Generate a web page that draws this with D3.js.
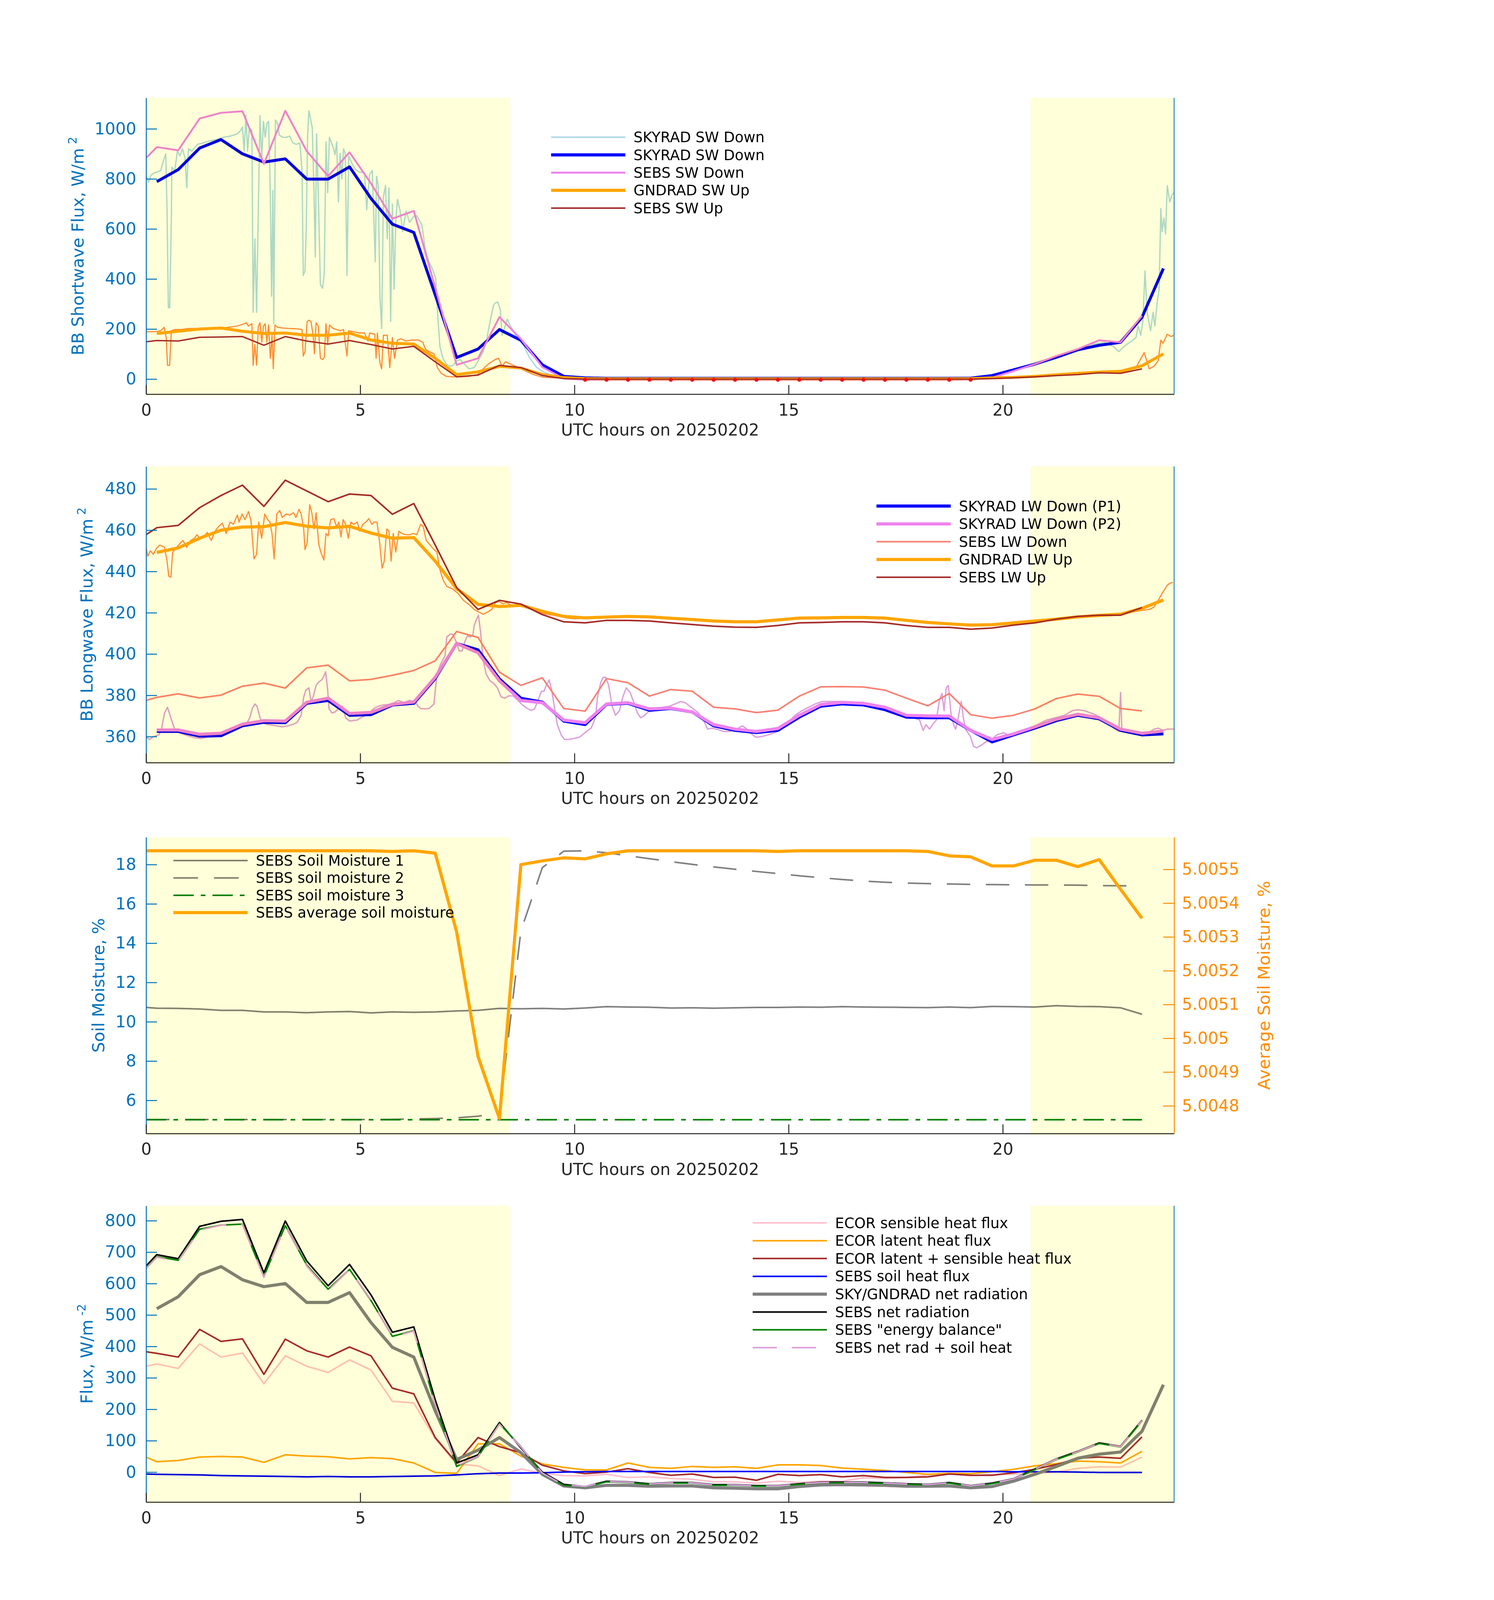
<!DOCTYPE html>
<html>
<head>
<meta charset="utf-8">
<script src="https://cdn.jsdelivr.net/npm/d3@7"></script>
<style>
  html, body { margin: 0; padding: 0; background: #fff; overflow: hidden; }
  svg { display: block; }
  text { font-family: "DejaVu Sans", sans-serif; }
</style>
</head>
<body>
<div id="chart"></div>
<script>
// ---- time bases (UTC hours) ----
const tHalf = [0.25,0.75,1.25,1.75,2.25,2.75,3.25,3.75,4.25,4.75,5.25,5.75,6.25,6.75,7.25,7.75,8.25,8.75,9.25,9.75,10.25,10.75,11.25,11.75,12.25,12.75,13.25,13.75,14.25,14.75,15.25,15.75,16.25,16.75,17.25,17.75,18.25,18.75,19.25,19.75,20.25,20.75,21.25,21.75,22.25,22.75,23.25,23.75];
const tSebs = [0,0.25,0.75,1.25,1.75,2.25,2.75,3.25,3.75,4.25,4.75,5.25,5.75,6.25,6.75,7.25,7.75,8.25,8.75,9.25,9.75,10.25,10.75,11.25,11.75,12.25,12.75,13.25,13.75,14.25,14.75,15.25,15.75,16.25,16.75,17.25,17.75,18.25,18.75,19.25,19.75,20.25,20.75,21.25,21.75,22.25,22.75,23.25];
const shadeHours = [[0, 8.5], [20.65, 24]];
const xTicks = [0, 5, 10, 15, 20];

// ---- panel 1: shortwave ----
const swTicks = [0, 200, 400, 600, 800, 1000];
const skySwDn1m = [[0,810],[0.06,787],[0.11,814],[0.18,823],[0.26,828],[0.34,833],[0.41,874],[0.46,900],[0.49,667],[0.52,285],[0.55,285],[0.59,635],[0.6,846],[0.67,833],[0.73,911],[0.79,892],[0.85,920],[0.91,883],[0.95,764],[0.99,920],[1.07,911],[1.2,938],[1.32,943],[1.48,952],[1.64,957],[1.8,966],[1.97,971],[2.13,980],[2.21,994],[2.25,1007],[2.29,911],[2.33,1053],[2.37,911],[2.41,1003],[2.47,994],[2.5,267],[2.54,561],[2.58,267],[2.62,672],[2.66,1053],[2.7,883],[2.74,1030],[2.78,966],[2.82,1021],[2.86,1030],[2.9,745],[2.93,331],[2.96,754],[2.98,221],[3.02,1035],[3.07,1021],[3.11,975],[3.19,966],[3.27,966],[3.35,971],[3.43,943],[3.51,938],[3.59,943],[3.64,837],[3.67,414],[3.71,432],[3.74,607],[3.77,966],[3.8,1072],[3.84,1040],[3.88,1003],[3.92,745],[3.95,488],[3.98,980],[4.02,745],[4.07,377],[4.12,363],[4.16,423],[4.2,948],[4.24,745],[4.28,966],[4.37,925],[4.41,897],[4.45,948],[4.49,708],[4.53,902],[4.57,800],[4.61,920],[4.65,902],[4.69,414],[4.73,892],[4.81,860],[4.89,837],[4.98,828],[5.1,823],[5.15,676],[5.22,819],[5.28,833],[5.35,469],[5.38,810],[5.42,773],[5.46,327],[5.5,202],[5.54,727],[5.59,773],[5.63,561],[5.67,764],[5.71,230],[5.75,699],[5.79,359],[5.83,635],[5.87,718],[5.93,672],[5.99,589],[6.07,672],[6.15,626],[6.24,649],[6.32,653],[6.44,616],[6.52,515],[6.6,469],[6.68,442],[6.76,405],[6.8,276],[6.86,129],[6.93,83],[7.01,60],[7.09,51],[7.17,55],[7.25,74],[7.33,78],[7.46,55],[7.54,41],[7.66,46],[7.74,69],[7.86,106],[7.94,147],[8.02,221],[8.11,294],[8.15,304],[8.21,308],[8.27,276],[8.31,175],[8.35,193],[8.43,239],[8.51,212],[8.63,175],[8.8,138],[8.96,83],[9.12,46],[9.28,28],[9.5,14],[9.71,6],[10.02,2],[12,1],[14,1],[16,1],[18,1],[19.24,2],[19.76,9],[20.7,55],[21.54,101],[22.06,138],[22.38,147],[22.59,129],[22.71,110],[22.85,133],[23.01,152],[23.11,166],[23.16,212],[23.22,175],[23.27,230],[23.32,432],[23.37,267],[23.45,193],[23.51,267],[23.55,212],[23.61,313],[23.65,359],[23.69,681],[23.72,589],[23.76,644],[23.8,580],[23.84,773],[23.9,708],[23.95,736],[24,745]];
const gndSwUp1m = [[0,189],[0.18,189],[0.34,193],[0.42,207],[0.47,166],[0.5,55],[0.55,55],[0.59,193],[0.67,198],[0.83,198],[0.99,202],[1.15,202],[1.48,204],[1.8,204],[2.13,212],[2.29,221],[2.34,225],[2.39,212],[2.47,221],[2.5,55],[2.54,138],[2.58,55],[2.62,212],[2.66,225],[2.7,147],[2.74,212],[2.78,221],[2.82,147],[2.86,216],[2.9,83],[2.94,175],[2.97,41],[3.01,216],[3.07,207],[3.19,204],[3.35,202],[3.51,201],[3.64,198],[3.67,92],[3.71,110],[3.76,230],[3.8,235],[3.85,230],[3.9,175],[3.93,101],[3.97,225],[4.02,212],[4.07,83],[4.12,78],[4.16,87],[4.2,221],[4.24,138],[4.28,216],[4.37,202],[4.45,198],[4.53,193],[4.61,198],[4.69,92],[4.73,193],[4.85,189],[4.98,184],[5.1,184],[5.18,152],[5.22,184],[5.34,179],[5.37,83],[5.4,184],[5.46,64],[5.5,41],[5.54,175],[5.63,175],[5.69,46],[5.75,166],[5.8,83],[5.87,156],[5.95,161],[6.07,152],[6.2,156],[6.36,156],[6.46,147],[6.52,120],[6.6,110],[6.72,101],[6.8,46],[6.89,23],[7.01,11],[7.17,9],[7.33,9],[7.54,11],[7.74,18],[7.9,46],[8.02,64],[8.15,78],[8.23,83],[8.31,51],[8.39,69],[8.51,60],[8.63,51],[8.8,37],[9.04,18],[9.28,7],[10,2],[15,1],[19.5,3],[20.5,10],[21.5,18],[22.5,28],[23,40],[23.11,46],[23.3,106],[23.42,41],[23.53,51],[23.63,74],[23.69,156],[23.74,143],[23.84,179],[23.93,170],[24,175]];
const skySwDn30 = [789,837,923,957,900,867,880,799,799,848,722,619,586,337,86,120,198,155,57,11,5,3,3,3,3,3,3,3,3,3,3,3,3,3,3,3,3,3,4,14,37,60,87,117,135,147,247,442];
const sebsSwDn = [883,927,914,1041,1064,1070,860,1072,911,811,906,782,641,672,365,57,83,248,160,48,2,-3,-3,-3,-3,-3,-3,-3,-3,-3,-3,-3,-3,-3,-3,-3,-3,-3,-3,-2,6,32,60,92,120,155,147,253];
const gndSwUp30 = [182,191,200,204,191,182,184,175,175,184,156,143,140,83,18,29,51,44,18,6,2,1,1,1,1,1,1,1,1,1,1,1,1,1,1,1,1,1,2,5,7,11,17,23,28,31,53,101];
const sebsSwUp = [149,154,152,167,168,170,135,170,152,140,154,138,120,131,69,9,16,55,46,14,2,0,0,0,0,0,0,0,0,0,0,0,0,0,0,0,0,0,0,0,2,5,9,14,18,25,23,41];
const nightDotsT = [10.25,10.75,11.25,11.75,12.25,12.75,13.25,13.75,14.25,14.75,15.25,15.75,16.25,16.75,17.25,17.75,18.25,18.75,19.25];
const nightDotsV = [-3,-3,-3,-3,-3,-3,-3,-3,-3,-3,-3,-3,-3,-3,-3,-3,-3,-3,-3];

// ---- panel 2: longwave ----
const lwTicks = [360, 380, 400, 420, 440, 460, 480];
const skyLwDn1m = [[0,359.7],[0.08,358.6],[0.17,360],[0.3,360.8],[0.36,363.6],[0.43,371.4],[0.5,374.2],[0.56,370.3],[0.62,366.4],[0.69,362.5],[0.78,361.9],[0.91,360.8],[1.04,360],[1.17,359.3],[1.3,359.1],[1.43,359.7],[1.56,360],[1.69,360.8],[1.83,360.8],[1.96,362.5],[2.09,363.6],[2.22,364.7],[2.35,366.4],[2.42,369.1],[2.48,373.6],[2.54,375.8],[2.59,374.7],[2.66,369.1],[2.72,366.9],[2.8,366],[2.92,365.6],[3.05,365.2],[3.18,364.7],[3.31,365.2],[3.44,366],[3.53,366.9],[3.62,370.3],[3.68,379.2],[3.73,382.5],[3.8,383.6],[3.85,377],[3.9,379.2],[3.97,384.8],[4.03,386.4],[4.1,387.5],[4.15,389.2],[4.19,391.4],[4.24,382.5],[4.27,373.6],[4.34,371.4],[4.41,371.9],[4.49,373.6],[4.58,374.7],[4.66,369.1],[4.75,367.5],[4.84,367.8],[4.93,368],[5.01,369.1],[5.13,370.3],[5.23,371.9],[5.32,373.6],[5.42,374.7],[5.54,375.3],[5.67,375.6],[5.8,376.4],[5.89,377.5],[6.02,376.4],[6.15,377.5],[6.28,377],[6.35,374.7],[6.41,373.6],[6.5,373.4],[6.61,373.6],[6.72,375.8],[6.79,390.3],[6.87,394.8],[6.98,399.3],[7.02,408.2],[7.11,409.8],[7.17,409.3],[7.24,405.9],[7.31,401.5],[7.38,401.5],[7.44,405.9],[7.5,408.7],[7.57,408.2],[7.63,409.3],[7.66,413.8],[7.72,417.1],[7.76,418.8],[7.81,410.4],[7.87,397],[7.94,390.3],[8.03,387],[8.11,385.9],[8.2,383.6],[8.29,379.2],[8.38,378.6],[8.46,379.7],[8.57,379.7],[8.68,377.5],[8.79,375.3],[8.9,373.6],[8.99,372.7],[9.07,373.4],[9.16,378.1],[9.23,382],[9.29,382],[9.35,385.3],[9.41,387.5],[9.47,382.5],[9.53,374.7],[9.6,365.8],[9.69,360.8],[9.77,358.6],[9.86,358.6],[9.99,359.1],[10.12,359.7],[10.28,362.5],[10.39,364.1],[10.49,369.1],[10.54,379.2],[10.61,385.9],[10.67,388.7],[10.73,388.7],[10.8,384.8],[10.88,374.7],[10.96,370.3],[11.05,372.5],[11.13,379.2],[11.21,383.6],[11.3,381.4],[11.38,377],[11.47,371.4],[11.55,369.1],[11.64,370.3],[11.75,372.5],[11.91,373.6],[12.06,374.2],[12.22,374.7],[12.35,375.8],[12.48,377],[12.59,376.4],[12.69,374.7],[12.8,373],[12.9,371.4],[13.01,368],[13.11,363.6],[13.21,364.1],[13.32,363.6],[13.48,362.5],[13.63,362.5],[13.79,363.6],[13.92,365.2],[14,364.1],[14.1,361.9],[14.23,359.7],[14.37,360],[14.52,360.8],[14.68,361.9],[14.84,364.1],[14.99,366.9],[15.15,370.3],[15.31,372.5],[15.47,374.2],[15.62,375.8],[15.78,377],[15.99,377],[16.2,377],[16.41,376.4],[16.62,375.8],[16.83,375.3],[17.04,374.7],[17.25,373],[17.46,371.4],[17.61,370.3],[17.77,369.4],[17.93,369.1],[18.06,368],[18.14,363],[18.21,365.8],[18.29,363.6],[18.38,366.4],[18.45,368],[18.52,377.5],[18.58,380.9],[18.63,372.5],[18.68,383.6],[18.73,384.8],[18.79,371.4],[18.85,365.8],[18.9,363.6],[18.95,368],[19.03,377],[19.08,369.1],[19.13,363.6],[19.24,360.2],[19.32,355.2],[19.39,354.6],[19.5,355.8],[19.6,357.4],[19.74,358.6],[19.86,360.8],[20.02,361.9],[20.18,360.2],[20.34,361.9],[20.49,363],[20.65,364.1],[20.81,365.8],[21.02,368],[21.23,369.1],[21.44,370.3],[21.62,372.5],[21.75,373],[21.91,372.5],[22.06,371.4],[22.25,369.7],[22.43,366.9],[22.59,364.1],[22.71,362.5],[22.75,381.4],[22.78,363.6],[22.9,361.9],[23.06,361.3],[23.21,360.8],[23.37,361.3],[23.53,363.6],[23.63,364.1],[23.74,363],[23.84,363.6],[24,363.6]];
const gndLwUp1m = [[0,451.7],[0.04,447.4],[0.1,450],[0.17,448.3],[0.24,451.1],[0.32,452.8],[0.43,451.7],[0.49,445],[0.53,437.7],[0.58,437.2],[0.62,449.4],[0.69,451.1],[0.78,453.3],[0.86,455],[0.95,451.7],[1.04,455],[1.13,456.1],[1.19,457.8],[1.26,455.6],[1.34,456.7],[1.43,458.9],[1.52,455],[1.61,459.5],[1.69,461.7],[1.78,463.4],[1.87,458.4],[1.96,463.9],[2.04,462.8],[2.13,467.3],[2.17,463.9],[2.24,467.8],[2.31,465.1],[2.39,469],[2.45,464.5],[2.52,446.1],[2.58,448.3],[2.63,463.9],[2.7,456.1],[2.77,467.8],[2.84,465.1],[2.89,463.9],[2.94,458.4],[2.99,446.1],[3.05,467.8],[3.12,469.5],[3.18,466.2],[3.27,467.8],[3.35,467.3],[3.44,468.4],[3.5,466.2],[3.57,470.1],[3.62,467.8],[3.68,460.6],[3.71,450.6],[3.76,453.9],[3.82,472.3],[3.87,468.4],[3.92,460.6],[3.97,468.4],[4.03,453.3],[4.08,449.4],[4.15,445.5],[4.2,458.4],[4.25,457.2],[4.31,465.1],[4.38,465.6],[4.45,461.7],[4.5,463.9],[4.55,456.7],[4.6,465.1],[4.66,462.8],[4.72,456.1],[4.78,463.9],[4.85,462.8],[4.93,463.9],[4.99,459.5],[5.06,462.8],[5.13,463.9],[5.2,465.6],[5.27,462.8],[5.32,463.9],[5.39,463.9],[5.45,454.5],[5.51,441.6],[5.56,445],[5.62,460.6],[5.67,459.5],[5.72,445],[5.77,458.4],[5.83,449.4],[5.9,459.5],[5.97,458.4],[6.06,457.8],[6.15,457.8],[6.24,458.4],[6.32,457.8],[6.41,462.8],[6.47,461.7],[6.54,455],[6.63,452.8],[6.72,450.6],[6.79,449.4],[6.85,441.6],[6.93,436.1],[7.02,432.7],[7.15,431.6],[7.28,429.4],[7.41,426],[7.55,423.8],[7.66,421.6],[7.76,420.4],[7.87,419.3],[7.98,420.4],[8.07,421.6],[8.16,424.9],[8.24,425.5],[8.33,424.3],[8.42,424.9],[8.51,423.8],[8.64,423.2],[8.81,422.9],[8.99,421.6],[9.16,420.4],[9.34,419.3],[9.51,418.8],[9.69,418],[9.86,417.3],[10.03,417.1],[10.28,417.5],[11,418.3],[12,417.6],[13,416.3],[14,415.4],[15,417],[16,417.8],[17,417.5],[18,415.7],[19,414.2],[20,414.6],[21,416.6],[22,418.5],[22.9,419.8],[23.2,421],[23.42,421.6],[23.53,422.7],[23.63,426],[23.72,429.4],[23.79,431.6],[23.84,433.3],[23.91,434.4],[23.97,434.6]];
const skyLwDnP1 = [362.5,362.5,360.2,360.4,365.2,366.9,366.7,376.1,377.5,370.3,370.6,375.3,376.1,388.1,405.1,402.0,387.9,378.6,376.7,367.5,365.8,375.6,376.1,372.7,373.6,371.9,365.2,363.0,361.9,363.0,369.4,374.7,375.8,375.3,373.0,369.4,369.1,369.1,363.0,357.4,360.8,364.1,367.7,370.3,368.6,363.0,360.8,361.3];
const skyLwDnP2 = [363.2,363.2,361.1,361.6,366.0,367.7,367.5,376.6,378.6,371.2,371.7,375.6,376.7,388.7,405.1,400.6,387.0,377.5,376.4,368.0,366.7,375.8,376.4,373.4,373.8,371.9,365.8,363.6,362.5,363.9,370.3,375.5,376.6,376.1,374.2,370.3,370.0,369.9,363.0,358.6,361.3,364.7,368.4,370.8,369.1,363.6,361.6,362.7];
const sebsLwDn = [377.5,379.0,380.7,378.7,380.1,384.4,385.9,383.5,393.3,394.6,387.0,387.7,389.7,392.0,396.7,410.9,408.0,391.2,384.8,388.5,373.6,372.3,388.1,386.1,379.6,382.8,382.0,374.2,373.4,371.6,372.8,379.6,384.1,384.2,384.0,382.5,378.6,374.9,380.9,370.6,368.9,370.3,373.4,378.4,380.6,379.5,373.6,372.4];
const gndLwUp30 = [449.2,451.4,456.1,460.0,461.5,461.7,463.7,461.9,461.1,461.9,458.6,456.1,456.4,445.0,431.6,424.1,423.0,423.6,420.7,418.2,417.5,417.9,418.2,418.0,417.3,416.7,416.0,415.6,415.6,416.5,417.4,417.5,417.7,417.7,417.4,416.3,415.3,414.6,414.0,414.2,415.1,416.0,416.9,418.0,418.7,419.3,422.1,426.2];
const sebsLwUp = [457.8,461.2,462.3,470.9,476.8,481.8,471.5,484.2,479.0,473.8,477.5,476.8,467.7,472.9,452.8,432.2,421.6,426.0,424.2,419.1,415.6,415.1,416.3,416.3,416.0,415.1,414.3,413.5,413.0,412.9,413.8,415.1,415.3,415.6,415.6,415.1,413.8,412.9,412.9,412.0,412.6,414.0,415.1,416.9,418.2,418.8,418.8,422.5];

// ---- panel 3: soil moisture ----
const smTicks = [6, 8, 10, 12, 14, 16, 18];
const smAvgTicks = [5.0048, 5.0049, 5.005, 5.0051, 5.0052, 5.0053, 5.0054, 5.0055];
const soil1 = [10.73,10.69,10.68,10.65,10.58,10.58,10.50,10.50,10.46,10.50,10.52,10.45,10.50,10.48,10.50,10.55,10.58,10.68,10.66,10.68,10.65,10.70,10.77,10.75,10.74,10.70,10.71,10.69,10.71,10.73,10.73,10.75,10.74,10.77,10.75,10.74,10.73,10.72,10.75,10.72,10.78,10.77,10.75,10.82,10.78,10.77,10.71,10.38];
const soil2 = [5.02,5.02,5.02,5.02,5.02,5.02,5.02,5.02,5.02,5.02,5.02,5.02,5.03,5.05,5.07,5.11,5.19,5.36,14.62,17.84,18.68,18.70,18.60,18.45,18.30,18.15,18.01,17.88,17.76,17.65,17.54,17.43,17.33,17.24,17.16,17.10,17.06,17.03,17.01,16.99,16.98,16.97,16.96,16.96,16.95,16.93,16.92,16.90];
const soil3 = [5.01,5.01,5.01,5.01,5.01,5.01,5.01,5.01,5.01,5.01,5.01,5.01,5.01,5.01,5.01,5.01,5.01,5.01,5.01,5.01,5.01,5.01,5.01,5.01,5.01,5.01,5.01,5.01,5.01,5.01,5.01,5.01,5.01,5.01,5.01,5.01,5.01,5.01,5.01,5.01,5.01,5.01,5.01,5.01,5.01,5.01,5.01,5.01];
const soilAvg = [5.005555,5.005555,5.005555,5.005555,5.005555,5.005555,5.005555,5.005555,5.005555,5.005555,5.005555,5.005555,5.005553,5.005555,5.005548,5.005315,5.004946,5.004762,5.005514,5.005525,5.005534,5.005531,5.005546,5.005555,5.005555,5.005555,5.005555,5.005555,5.005555,5.005555,5.005553,5.005555,5.005555,5.005555,5.005555,5.005555,5.005555,5.005553,5.005540,5.005537,5.005510,5.005510,5.005527,5.005527,5.005508,5.005529,5.005441,5.005355];

// ---- panel 4: surface energy fluxes ----
const fluxTicks = [0, 100, 200, 300, 400, 500, 600, 700, 800];
const ecorSens = [337,344,330,408,366,379,281,370,337,317,357,325,225,220,106,26,20,-11,10,-4,-11,-12,-7,-17,-15,-20,-23,-31,-31,-35,-29,-33,-29,-29,-18,-20,-17,-9,-5,-11,-7,-7,-4,0,12,17,16,48];
const ecorLat = [48,33,37,48,50,48,31,55,51,49,42,46,43,29,-1,-4,90,90,51,26,15,7,7,29,15,12,18,15,17,12,23,23,21,13,9,5,-1,-7,-4,-5,1,9,20,27,35,33,29,66];
const ecorSum = [383,378,366,454,416,424,311,423,386,366,398,370,267,249,110,29,110,81,62,22,4,-5,0,11,-1,-10,-6,-17,-16,-26,-7,-11,-8,-15,-11,-17,-17,-15,-6,-10,-10,-2,9,24,44,48,44,112];
const sebsSoilHeat = [-6,-7,-8,-9,-11,-12,-13,-14,-15,-14,-15,-15,-14,-13,-12,-9,-5,-3,-3,-2,0,1,2,2,2,2,2,2,2,2,2,2,2,2,2,2,2,2,2,2,2,1,1,1,0,-1,-1,-1];
const skyGndNet = [520,558,628,654,612,590,600,540,540,571,476,397,366,195,40,70,110,62,-7,-44,-50,-42,-42,-45,-44,-44,-50,-51,-53,-53,-46,-41,-40,-41,-42,-45,-45,-44,-50,-46,-29,-7,18,44,57,64,130,278];
const sebsNetRad = [656,692,679,782,798,804,634,799,672,593,661,564,445,462,230,29,55,158,77,0,-39,-46,-29,-31,-37,-33,-33,-40,-40,-43,-43,-37,-32,-32,-32,-34,-37,-39,-33,-43,-35,-21,10,42,66,93,82,165];
const sebsEnergyBal = [650,686,674,773,786,789,623,784,659,582,645,546,432,450,215,18,49,154,81,-4,-42,-47,-31,-33,-39,-35,-35,-42,-42,-45,-45,-39,-34,-34,-34,-36,-39,-41,-35,-45,-37,-23,8,40,64,91,80,163];
const sebsNetPlusSoil = [648,684,671,770,786,788,620,783,656,578,645,548,430,449,215,20,50,152,80,-3,-41,-46,-30,-32,-38,-34,-34,-41,-41,-44,-44,-38,-33,-33,-33,-35,-38,-40,-34,-44,-36,-22,9,41,65,92,81,164];

// ---- layout ----
// layout is laid out in 3825x4875 units; if the window is shorter,
// vertical positions are compressed so that all four panels stay visible
const W = 3825, H0 = 4875;
const SY = Math.min(1, (window.innerHeight || H0) / H0);
const H = Math.floor(H0 * SY);
const L = 374, R = 3006;
const BLUE = '#0072bd', DARK = '#262626', RORANGE = '#ff8c00', SHADE = '#ffffd9';

const svg = d3.select('#chart').append('svg').attr('width', W).attr('height', H);
svg.append('rect').attr('width', W).attr('height', H).attr('fill', '#fff');

const x = d3.scaleLinear().domain([0, 24]).range([L, R]);
const zip = (t, v) => t.map((d, i) => [d, v[i]]);

function drawPanel(p) {
  const top = p.top * SY, bottom = p.bottom * SY, mid = (top + bottom) / 2;
  const g = svg.append('g');
  const y = d3.scaleLinear().domain(p.yDomain).range([bottom, top]);
  const y2 = p.y2Domain ? d3.scaleLinear().domain(p.y2Domain).range([bottom, top]) : null;

  svg.append('clipPath').attr('id', 'clip' + p.id).append('rect')
    .attr('x', L).attr('y', top).attr('width', R - L).attr('height', bottom - top);
  const plot = g.append('g').attr('clip-path', `url(#clip${p.id})`);

  p.series.forEach(s => {
    const ys = s.right ? y2 : y;
    const line = d3.line().x(d => x(d[0])).y(d => ys(d[1]));
    plot.append('path').datum(s.data)
      .attr('d', line)
      .attr('fill', 'none')
      .attr('stroke', s.color)
      .attr('stroke-width', s.w)
      .attr('stroke-linejoin', 'round')
      .attr('stroke-dasharray', s.dash || null);
  });

  if (p.dots) {
    plot.selectAll('circle.dot').data(p.dots).join('circle')
      .attr('cx', d => x(d[0])).attr('cy', d => y(d[1]))
      .attr('r', 5).attr('fill', '#ff0000');
  }

  // legend
  const lg = g.append('g');
  p.legend.forEach((it, i) => {
    const yy = (p.legY + i * p.legDy) * SY;
    lg.append('line')
      .attr('x1', p.legX).attr('x2', p.legX + 190)
      .attr('y1', yy).attr('y2', yy)
      .attr('stroke', it.color).attr('stroke-width', it.w)
      .attr('stroke-dasharray', it.dash || null);
    lg.append('text')
      .attr('x', p.legX + 211).attr('y', yy + 13)
      .style('font-size', '37px').attr('fill', '#000')
      .text(it.label);
  });

  // day shading, multiplied over the marks
  g.selectAll('rect.shade').data(shadeHours).join('rect')
    .attr('x', d => x(d[0])).attr('width', d => x(d[1]) - x(d[0]))
    .attr('y', top).attr('height', bottom - top + 4)
    .attr('fill', SHADE)
    .style('mix-blend-mode', 'multiply');

  // left axis
  const ya = g.append('g').attr('transform', `translate(${L},0)`)
    .call(d3.axisLeft(y).tickValues(p.yTicks).tickFormat(d3.format('d'))
      .tickSize(-28).tickSizeOuter(0).tickPadding(25));
  ya.attr('font-size', 42).attr('font-family', 'DejaVu Sans');
  ya.select('.domain').attr('stroke', BLUE).attr('stroke-width', 2.5);
  ya.selectAll('.tick line').attr('stroke', BLUE).attr('stroke-width', 2.5);
  ya.selectAll('.tick text').attr('fill', BLUE);

  // bottom axis
  const xa = g.append('g').attr('transform', `translate(0,${bottom})`)
    .call(d3.axisBottom(x).tickValues(xTicks).tickFormat(d3.format('d'))
      .tickSize(-28 * SY).tickSizeOuter(0).tickPadding(0));
  xa.attr('font-size', 42).attr('font-family', 'DejaVu Sans');
  xa.select('.domain').attr('stroke', DARK).attr('stroke-width', 2.5);
  xa.selectAll('.tick line').attr('stroke', DARK).attr('stroke-width', 2.5);
  xa.selectAll('.tick text').attr('fill', DARK).attr('dy', null).attr('y', 65 * SY);

  if (y2) {
    const ra = g.append('g').attr('transform', `translate(${R},0)`)
      .call(d3.axisRight(y2).tickValues(p.y2Ticks).tickSize(-28).tickSizeOuter(0).tickPadding(20)
        .tickFormat(d => String(+d.toFixed(4))));
    ra.attr('font-size', 42).attr('font-family', 'DejaVu Sans');
    ra.select('.domain').attr('stroke', RORANGE).attr('stroke-width', 2.5);
    ra.selectAll('.tick line').attr('stroke', RORANGE).attr('stroke-width', 2.5);
    ra.selectAll('.tick text').attr('fill', RORANGE);
    g.append('text')
      .attr('transform', `translate(${p.y2LabelX},${mid}) rotate(-90)`)
      .attr('text-anchor', 'middle').attr('fill', RORANGE)
      .style('font-size', '43px')
      .text(p.y2Label);
  } else {
    g.append('line').attr('x1', R).attr('x2', R).attr('y1', top).attr('y2', bottom)
      .attr('stroke', BLUE).attr('stroke-width', 2);
  }

  g.append('text')
    .attr('x', (L + R) / 2).attr('y', bottom + 126 * SY)
    .attr('text-anchor', 'middle').attr('fill', DARK)
    .style('font-size', '42px')
    .text('UTC hours on 20250202');

  const yl = g.append('text')
    .attr('transform', `translate(${p.yLabelX},${mid}) rotate(-90)`)
    .attr('text-anchor', 'middle').attr('fill', BLUE)
    .style('font-size', '43px');
  yl.append('tspan').text(p.yLabel);
  if (p.ySup) {
    yl.append('tspan').attr('dx', 10).attr('dy', -18).style('font-size', '30px').text(p.ySup);
  }
}

// Panel 1
drawPanel({
  id: 1, top: 298, bottom: 1201, yDomain: [-60.3, 1123.9], yTicks: swTicks,
  yLabel: 'BB Shortwave Flux, W/m', ySup: '2', yLabelX: 214,
  series: [
    { data: skySwDn1m, color: '#add8e6', w: 3.3 },
    { data: gndSwUp1m, color: '#ff8c3c', w: 3 },
    { data: zip(tHalf, skySwDn30), color: '#0000ff', w: 7.5 },
    { data: zip(tSebs, sebsSwDn), color: '#ee82ee', w: 4.7 },
    { data: zip(tHalf, gndSwUp30), color: '#ffa500', w: 7.5 },
    { data: zip(tSebs, sebsSwUp), color: '#a52a2a', w: 3.5 }
  ],
  dots: zip(nightDotsT, nightDotsV),
  legX: 1411, legY: 418, legDy: 54,
  legend: [
    { label: 'SKYRAD SW Down', color: '#add8e6', w: 4 },
    { label: 'SKYRAD SW Down', color: '#0000ff', w: 8 },
    { label: 'SEBS SW Down', color: '#ee82ee', w: 5 },
    { label: 'GNDRAD SW Up', color: '#ffa500', w: 8 },
    { label: 'SEBS SW Up', color: '#a52a2a', w: 4 }
  ]
});

// Panel 2
drawPanel({
  id: 2, top: 1421, bottom: 2323.5, yDomain: [347.4, 490.9], yTicks: lwTicks,
  yLabel: 'BB Longwave Flux, W/m', ySup: '2', yLabelX: 237,
  series: [
    { data: skyLwDn1m, color: '#dda0dd', w: 3.5 },
    { data: gndLwUp1m, color: '#ff8c3c', w: 3 },
    { data: zip(tHalf, skyLwDnP1), color: '#0000ff', w: 7.5 },
    { data: zip(tHalf, skyLwDnP2), color: '#ee82ee', w: 8 },
    { data: zip(tSebs, sebsLwDn), color: '#fa8072', w: 4 },
    { data: zip(tHalf, gndLwUp30), color: '#ffa500', w: 8 },
    { data: zip(tSebs, sebsLwUp), color: '#a52a2a', w: 4 }
  ],
  legX: 2244, legY: 1542, legDy: 54.2,
  legend: [
    { label: 'SKYRAD LW Down (P1)', color: '#0000ff', w: 8 },
    { label: 'SKYRAD LW Down (P2)', color: '#ee82ee', w: 8 },
    { label: 'SEBS LW Down', color: '#fa8072', w: 4 },
    { label: 'GNDRAD LW Up', color: '#ffa500', w: 8 },
    { label: 'SEBS LW Up', color: '#a52a2a', w: 4 }
  ]
});

// Panel 3
drawPanel({
  id: 3, top: 2551, bottom: 3453.7, yDomain: [4.31, 19.39], yTicks: smTicks,
  y2Domain: [5.004718, 5.005595], y2Ticks: smAvgTicks,
  y2Label: 'Average Soil Moisture, %', y2LabelX: 3251,
  yLabel: 'Soil Moisture, %', yLabelX: 267,
  series: [
    { data: zip(tSebs, soil1), color: '#808080', w: 4 },
    { data: zip(tSebs, soil2), color: '#808080', w: 4, dash: '60,40' },
    { data: zip(tSebs, soil3), color: '#008000', w: 4, dash: '52,18,12,18' },
    { data: zip(tSebs, soilAvg), color: '#ffa500', w: 8, right: true }
  ],
  legX: 444, legY: 2622, legDy: 52.9,
  legend: [
    { label: 'SEBS Soil Moisture 1', color: '#808080', w: 4 },
    { label: 'SEBS soil moisture 2', color: '#808080', w: 4, dash: '63,41' },
    { label: 'SEBS soil moisture 3', color: '#008000', w: 4, dash: '52,18,12,18' },
    { label: 'SEBS average soil moisture', color: '#ffa500', w: 8 }
  ]
});

// Panel 4
drawPanel({
  id: 4, top: 3673.7, bottom: 4576.5, yDomain: [-95.2, 847.6], yTicks: fluxTicks,
  yLabel: 'Flux, W/m', ySup: '-2', yLabelX: 237,
  series: [
    { data: zip(tSebs, ecorSens), color: '#ffc0cb', w: 4 },
    { data: zip(tSebs, ecorLat), color: '#ffa500', w: 4 },
    { data: zip(tSebs, ecorSum), color: '#a52a2a', w: 4 },
    { data: zip(tSebs, sebsSoilHeat), color: '#0000ff', w: 4 },
    { data: zip(tHalf, skyGndNet), color: '#808080', w: 8 },
    { data: zip(tSebs, sebsNetRad), color: '#000000', w: 4 },
    { data: zip(tSebs, sebsEnergyBal), color: '#008000', w: 4 },
    { data: zip(tSebs, sebsNetPlusSoil), color: '#dda0dd', w: 4, dash: '62,38' }
  ],
  legX: 1927, legY: 3726, legDy: 54.3,
  legend: [
    { label: 'ECOR sensible heat flux', color: '#ffc0cb', w: 4 },
    { label: 'ECOR latent heat flux', color: '#ffa500', w: 4 },
    { label: 'ECOR latent + sensible heat flux', color: '#a52a2a', w: 4 },
    { label: 'SEBS soil heat flux', color: '#0000ff', w: 4 },
    { label: 'SKY/GNDRAD net radiation', color: '#808080', w: 8 },
    { label: 'SEBS net radiation', color: '#000000', w: 4 },
    { label: 'SEBS "energy balance"', color: '#008000', w: 4 },
    { label: 'SEBS net rad + soil heat', color: '#dda0dd', w: 4, dash: '62,38' }
  ]
});
</script>
</body>
</html>
